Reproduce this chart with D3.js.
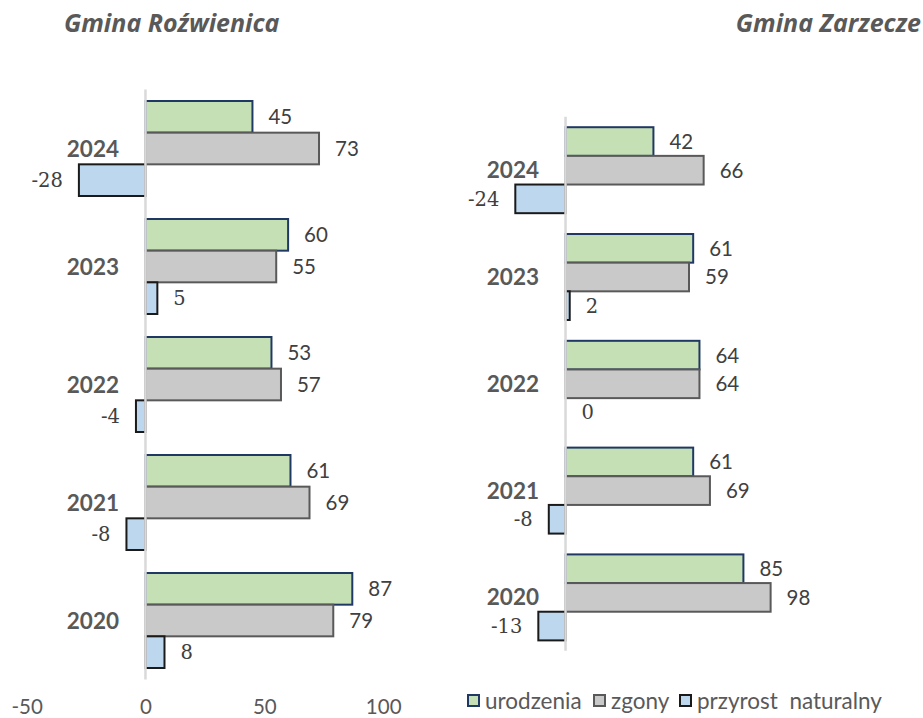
<!DOCTYPE html>
<html>
<head>
<meta charset="utf-8">
<script src="https://cdn.jsdelivr.net/npm/d3@7"></script>
<style>
    body { margin: 0; background: #fff; }
    svg { display: block; }
</style>
</head>
<body>
<script>
// dane
const years = ['2024', '2023', '2022', '2021', '2020'];
const rozUrodzenia = [45, 60, 53, 61, 87];
const rozZgony = [73, 55, 57, 69, 79];
const rozPrzyrost = [-28, 5, -4, -8, 8];
const zarUrodzenia = [42, 61, 64, 61, 85];
const zarZgony = [66, 59, 64, 69, 98];
const zarPrzyrost = [-24, 2, 0, -8, -13];
const seriesNames = ['urodzenia', 'zgony', 'przyrost  naturalny'];
const axisTicks = [-50, 0, 50, 100];

const fills = ['#c5e0b4', '#c9c9c9', '#bdd7ee'];
const strokes = ['#203864', '#595959', '#1a1a1a'];

const width = 923, height = 718;

const svg = d3.select('body').append('svg')
    .attr('width', width)
    .attr('height', height);

function drawPanel(opts) {
    const g = svg.append('g');

    const x = d3.scaleLinear()
        .domain([-50, 100])
        .range(opts.xRange);

    const y = d3.scaleBand()
        .domain(years)
        .range(opts.yRange)
        .paddingInner(0.195)
        .paddingOuter(0.0975);

    const inner = d3.scaleBand()
        .domain([0, 1, 2])
        .range([0, y.bandwidth()]);

    const rows = years.map(function(yr, i) {
        return {year: yr, vals: [opts.urodzenia[i], opts.zgony[i], opts.przyrost[i]]};
    });

    const grp = g.selectAll('.grp')
        .data(rows)
        .enter().append('g')
        .attr('transform', function(d) { return 'translate(0,' + y(d.year) + ')'; });

    grp.selectAll('rect')
        .data(function(d) { return d.vals; })
        .enter().append('rect')
        .attr('x', function(v) { return x(Math.min(0, v)); })
        .attr('y', function(v, k) { return inner(k); })
        .attr('width', function(v) { return Math.abs(x(v) - x(0)); })
        .attr('height', inner.bandwidth())
        .attr('fill', function(v, k) { return fills[k]; })
        .attr('stroke', function(v, k) { return strokes[k]; })
        .attr('stroke-width', 2);

    grp.selectAll('.val')
        .data(function(d) { return d.vals; })
        .enter().append('text')
        .attr('x', function(v) { return v < 0 ? x(v) - 16 : x(v) + 16; })
        .attr('y', function(v, k) { return inner(k) + inner.bandwidth() / 2; })
        .attr('dy', '0.36em')
        .attr('text-anchor', function(v) { return v < 0 ? 'end' : 'start'; })
        .attr('font-family', function(v, k) { return k == 2 ? 'DejaVu Serif, serif' : 'Lato, sans-serif'; })
        .attr('font-size', function(v, k) { return k == 2 ? 19.5 : 20.5; })
        .attr('fill', '#404040')
        .text(function(v) { return v; });

    // etykiety lat
    grp.append('text')
        .attr('x', opts.yearX)
        .attr('y', y.bandwidth() / 2)
        .attr('dy', '0.36em')
        .attr('text-anchor', 'end')
        .attr('font-family', 'Lato, sans-serif')
        .attr('font-weight', 'bold')
        .attr('font-size', 22.5)
        .attr('fill', '#595959')
        .text(function(d) { return d.year; });

    // os zero
    g.append('line')
        .attr('x1', x(0)).attr('x2', x(0))
        .attr('y1', opts.yRange[0]).attr('y2', opts.yRange[1])
        .attr('stroke', '#d9d9d9')
        .attr('stroke-width', 2.5);

    if (opts.showAxis) {
        const axis = g.append('g')
            .attr('transform', 'translate(0,' + opts.axisY + ')')
            .call(d3.axisBottom(x).tickValues(axisTicks).tickSize(0).tickPadding(0)
                .tickFormat(function(d) { return String(d); }));
        axis.select('.domain').remove();
        axis.selectAll('text')
            .attr('font-family', 'Lato, sans-serif')
            .attr('font-size', 20.5)
            .attr('fill', '#595959')
            .attr('dy', '0.36em');
    }

    svg.append('text')
        .attr('x', opts.titleX)
        .attr('y', 23)
        .attr('dy', '0.36em')
        .attr('text-anchor', opts.titleAnchor)
        .attr('font-family', 'Open Sans, sans-serif')
        .attr('font-weight', 'bold')
        .attr('font-style', 'italic')
        .attr('font-size', 25)
        .attr('fill', '#595959')
        .text(opts.title);
}

drawPanel({
    title: 'Gmina Roźwienica', titleX: 64, titleAnchor: 'start',
    urodzenia: rozUrodzenia, zgony: rozZgony, przyrost: rozPrzyrost,
    xRange: [26.6, 383.2], yRange: [89.5, 679.5],
    yearX: 119, showAxis: true, axisY: 707
});

drawPanel({
    title: 'Gmina Zarzecze', titleX: 921, titleAnchor: 'end',
    urodzenia: zarUrodzenia, zgony: zarZgony, przyrost: zarPrzyrost,
    xRange: [460.9, 774.8], yRange: [116.8, 650.8],
    yearX: 539, showAxis: false
});

// legenda
const legendX = [467, 593, 679];
const legend = svg.append('g').attr('transform', 'translate(0,701)');
const li = legend.selectAll('g')
    .data(seriesNames)
    .enter().append('g')
    .attr('transform', function(d, i) { return 'translate(' + legendX[i] + ',0)'; });
li.append('rect')
    .attr('x', 1).attr('y', -6)
    .attr('width', 11).attr('height', 11)
    .attr('fill', function(d, i) { return fills[i]; })
    .attr('stroke', function(d, i) { return strokes[i]; })
    .attr('stroke-width', 2);
li.append('text')
    .attr('x', 18)
    .attr('y', 0)
    .attr('dy', '0.36em')
    .attr('font-family', 'Lato, sans-serif')
    .attr('font-size', 22.5)
    .attr('fill', '#595959')
    .style('white-space', 'pre')
    .text(function(d) { return d; });
</script>
</body>
</html>
